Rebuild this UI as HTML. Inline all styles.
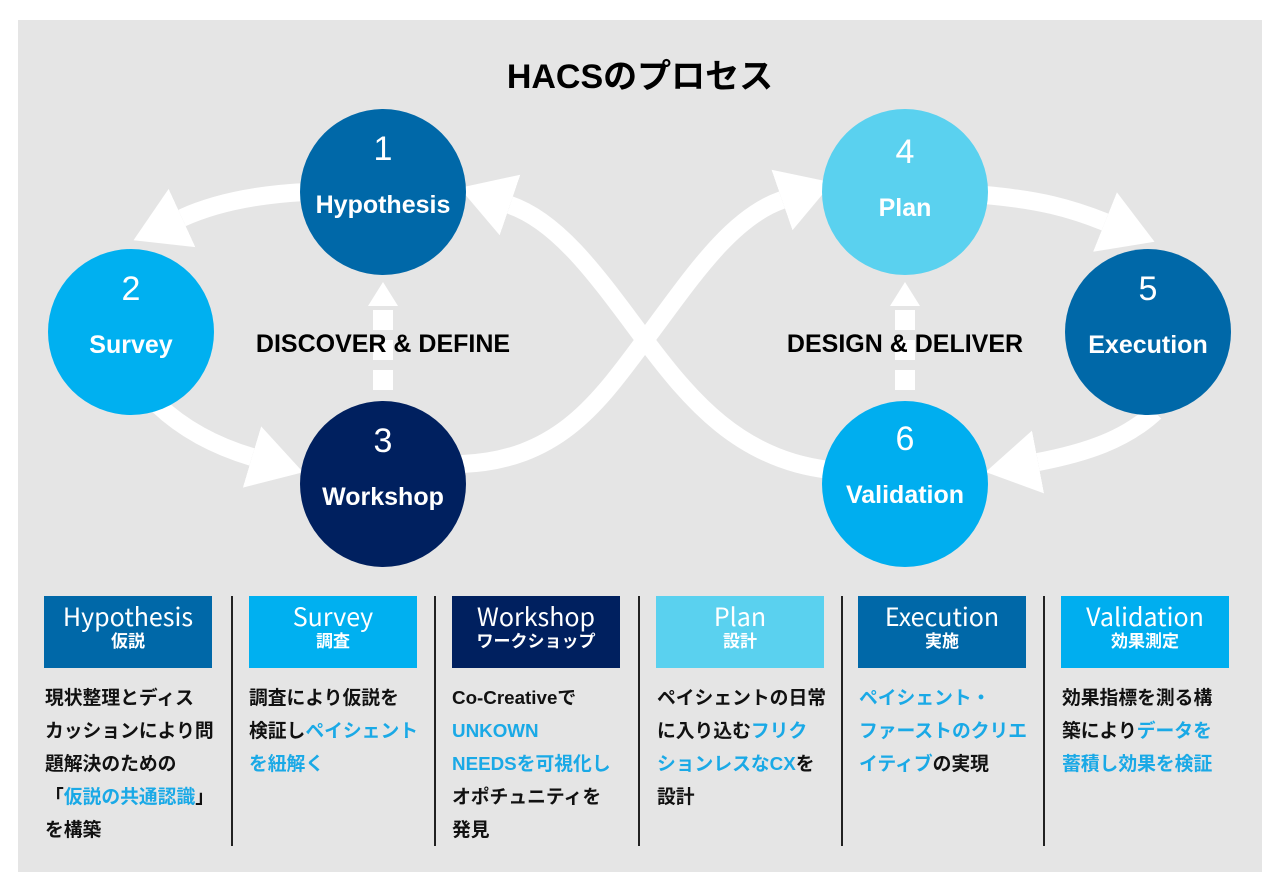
<!DOCTYPE html>
<html><head><meta charset="utf-8"><style>
*{margin:0;padding:0;box-sizing:border-box}
body{width:1280px;height:892px;background:#fff;position:relative;overflow:hidden;font-family:"Liberation Sans","Noto Sans CJK JP",sans-serif}
#bg{position:absolute;left:18px;top:20px;width:1244px;height:852px;background:#e5e5e5}
svg{position:absolute;left:0;top:0}
.box{position:absolute;top:596px;width:168px;height:72px;color:#fff;text-align:center;font-weight:bold}
.box .en{font-size:25px;line-height:30px;margin-top:5px;font-weight:normal;font-family:"Noto Sans CJK JP",sans-serif}
.box .jp{font-size:17px;line-height:22px}
.txt{position:absolute;top:681px;width:185px;font-size:18.8px;line-height:33px;font-weight:bold;color:#111;white-space:nowrap}
.b{color:#1aa9e6}
.div{position:absolute;top:596px;width:2px;height:250px;background:#222}
</style></head><body>
<div id="bg"></div>
<svg width="1280" height="892" viewBox="0 0 1280 892">
<defs>
<marker id="ah" markerUnits="userSpaceOnUse" markerWidth="64" markerHeight="70" refX="0" refY="30" orient="auto" viewBox="0 0 60 60"><path d="M0,0 L50,30 L0,60 Z" fill="#fff"/></marker>
</defs>
<g fill="none" stroke="#fff" stroke-width="18">
<path d="M305 192 Q230 196 182 218" marker-end="url(#ah)"/>
<path d="M158 405 Q195 440 252 457" marker-end="url(#ah)"/>
<path d="M462 464 C560 460 600 400 645 340 C690 280 730 218 782 200" marker-end="url(#ah)"/>
<path d="M830 470 C740 460 690 400 645 340 C600 280 560 222 510 205" marker-end="url(#ah)"/>
<path d="M985 195 C1040 200 1070 208 1105 222" marker-end="url(#ah)"/>
<path d="M1155 412 C1125 440 1085 453 1038 462" marker-end="url(#ah)"/>
</g>
<g fill="#fff">
<rect x="373" y="370" width="20" height="20"/><rect x="373" y="340" width="20" height="20"/><rect x="373" y="310" width="20" height="20"/>
<path d="M383 282 L398 306 L368 306 Z"/>
<rect x="895" y="370" width="20" height="20"/><rect x="895" y="340" width="20" height="20"/><rect x="895" y="310" width="20" height="20"/>
<path d="M905 282 L920 306 L890 306 Z"/>
</g>
<circle cx="383" cy="192" r="83" fill="#0068a8"/>
<circle cx="131" cy="332" r="83" fill="#00b0f0"/>
<circle cx="383" cy="484" r="83" fill="#00205f"/>
<circle cx="905" cy="192" r="83" fill="#5ad1ef"/>
<circle cx="1148" cy="332" r="83" fill="#0068a8"/>
<circle cx="905" cy="484" r="83" fill="#00aeef"/>
<g fill="#fff" text-anchor="middle" font-family="Liberation Sans, Noto Sans CJK JP, sans-serif" font-weight="bold">
<text x="383" y="160" font-size="34" font-weight="normal">1</text><text x="383" y="213" font-size="25">Hypothesis</text>
<text x="131" y="300" font-size="34" font-weight="normal">2</text><text x="131" y="353" font-size="25">Survey</text>
<text x="383" y="452" font-size="34" font-weight="normal">3</text><text x="383" y="505" font-size="25">Workshop</text>
<text x="905" y="163" font-size="34" font-weight="normal">4</text><text x="905" y="216" font-size="25">Plan</text>
<text x="1148" y="300" font-size="34" font-weight="normal">5</text><text x="1148" y="353" font-size="25">Execution</text>
<text x="905" y="450" font-size="34" font-weight="normal">6</text><text x="905" y="503" font-size="25">Validation</text>
</g>
<g fill="#000" text-anchor="middle" font-family="Liberation Sans, Noto Sans CJK JP, sans-serif">
<text x="640" y="88" font-size="34" font-weight="bold">HACSのプロセス</text>
<text x="383" y="352" font-size="25" font-weight="bold">DISCOVER &amp; DEFINE</text>
<text x="905" y="352" font-size="25" font-weight="bold">DESIGN &amp; DELIVER</text>
</g>
</svg>
<div class="box" style="left:44px;background:#0068a8"><div class="en">Hypothesis</div><div class="jp">仮説</div></div>
<div class="box" style="left:249px;background:#00b0f0"><div class="en">Survey</div><div class="jp">調査</div></div>
<div class="box" style="left:452px;background:#00205f"><div class="en">Workshop</div><div class="jp">ワークショップ</div></div>
<div class="box" style="left:656px;background:#5ad1ef"><div class="en">Plan</div><div class="jp">設計</div></div>
<div class="box" style="left:858px;background:#0068a8"><div class="en">Execution</div><div class="jp">実施</div></div>
<div class="box" style="left:1061px;background:#00aeef"><div class="en">Validation</div><div class="jp">効果測定</div></div>
<div class="div" style="left:231px"></div><div class="div" style="left:434px"></div><div class="div" style="left:638px"></div><div class="div" style="left:841px"></div><div class="div" style="left:1043px"></div>
<div class="txt" style="left:45px">現状整理とディス<br>カッションにより問<br>題解決のための<br>「<span class="b">仮説の共通認識</span>」<br>を構築</div>
<div class="txt" style="left:249px">調査により仮説を<br>検証し<span class="b">ペイシェント</span><br><span class="b">を紐解く</span></div>
<div class="txt" style="left:452px">Co-Creativeで<br><span class="b">UNKOWN</span><br><span class="b">NEEDSを可視化し</span><br>オポチュニティを<br>発見</div>
<div class="txt" style="left:657px">ペイシェントの日常<br>に入り込む<span class="b">フリク</span><br><span class="b">ションレスなCX</span>を<br>設計</div>
<div class="txt" style="left:859px"><span class="b">ペイシェント・</span><br><span class="b">ファーストのクリエ</span><br><span class="b">イティブ</span>の実現</div>
<div class="txt" style="left:1062px">効果指標を測る構<br>築により<span class="b">データを</span><br><span class="b">蓄積し効果を検証</span></div>
</body></html>
